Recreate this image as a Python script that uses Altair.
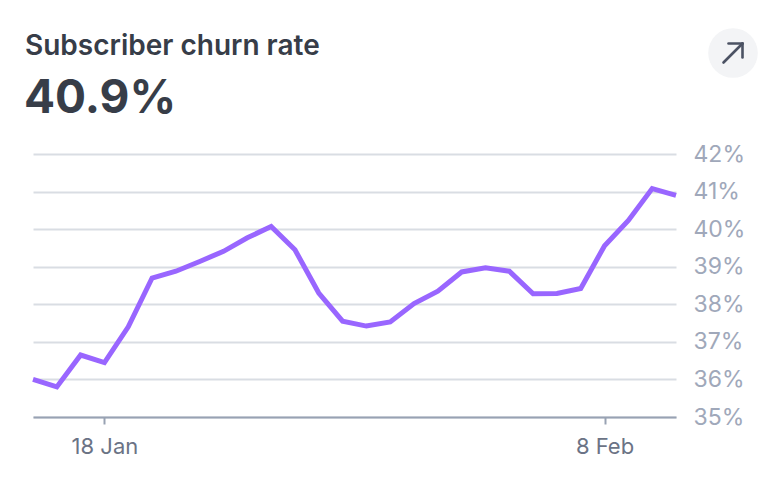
import altair as alt
import pandas as pd

dates = pd.date_range("2024-01-15", "2024-02-11", freq="D").strftime("%Y-%m-%d").tolist()
churn = [36.0, 35.8, 36.65, 36.45, 37.4, 38.7, 38.88, 39.14, 39.41, 39.77,
         40.07, 39.45, 38.3, 37.55, 37.42, 37.53, 38.02, 38.35, 38.86, 38.97,
         38.88, 38.28, 38.29, 38.42, 39.56, 40.23, 41.08, 40.9]
title_text = "Subscriber churn rate"
headline = "40.9%"
y_ticks = [35, 36, 37, 38, 39, 40, 41, 42]

df = pd.DataFrame({"date": dates, "churn": churn})

W, H = 643, 263
FONT = "Inter"

line = alt.Chart(df).mark_line(
    color="#9966ff", strokeWidth=5, strokeJoin="miter", strokeCap="butt", clip=False
).encode(
    x=alt.X(
        "date:T",
        scale=alt.Scale(type="utc", nice=False),
        axis=alt.Axis(
            title=None,
            values=[alt.DateTime(year=2024, month=1, date=18, utc=True),
                    alt.DateTime(year=2024, month=2, date=8, utc=True)],
            labelExpr="utcFormat(datum.value, '%-d %b')",
            grid=False,
            domainColor="#98a2b3",
            domainWidth=2,
            tickColor="#98a2b3",
            tickWidth=2,
            tickSize=7,
            labelPadding=12,
            labelColor="#6b7385",
            labelFontSize=22,
            labelFont=FONT,
        ),
    ),
    y=alt.Y(
        "churn:Q",
        scale=alt.Scale(domain=[35, 42], nice=False, zero=False),
        axis=alt.Axis(
            title=None,
            orient="right",
            values=y_ticks,
            labelExpr="datum.value + '%'",
            domain=False,
            ticks=False,
            grid=True,
            gridColor="#d9dde3",
            gridWidth=2,
            labelPadding=17,
            labelColor="#a0a8ba",
            labelFontSize=23,
            labelFont=FONT,
            labelBaseline="middle",
        ),
    ),
)

title = alt.Chart(pd.DataFrame({"t": [title_text]})).mark_text(
    align="left", baseline="alphabetic", font=FONT, fontSize=28, fontWeight=600,
    color="#373d48"
).encode(text="t:N", x=alt.value(-8), y=alt.value(-99))

big = alt.Chart(pd.DataFrame({"t": [headline]})).mark_text(
    align="left", baseline="alphabetic", font=FONT, fontSize=46, fontWeight=700,
    color="#373d48"
).encode(text="t:N", x=alt.value(-9), y=alt.value(-41))

button = alt.Chart(pd.DataFrame({"a": [0]})).mark_point(
    shape="circle", filled=True, size=2460, color="#f3f4f6", opacity=1
).encode(x=alt.value(700), y=alt.value(-101))

arrow_color = "#4b5263"
shaft = alt.Chart(pd.DataFrame({"a": [0]})).mark_rule(
    color=arrow_color, strokeWidth=2.6, strokeCap="round"
).encode(x=alt.value(690.5), x2=alt.value(709.5), y=alt.value(-91.5), y2=alt.value(-110.5))
head_h = alt.Chart(pd.DataFrame({"a": [0]})).mark_rule(
    color=arrow_color, strokeWidth=2.6, strokeCap="round"
).encode(x=alt.value(695.5), x2=alt.value(709.5), y=alt.value(-110.5), y2=alt.value(-110.5))
head_v = alt.Chart(pd.DataFrame({"a": [0]})).mark_rule(
    color=arrow_color, strokeWidth=2.6, strokeCap="round"
).encode(x=alt.value(709.5), x2=alt.value(709.5), y=alt.value(-110.5), y2=alt.value(-96.5))

chart = alt.layer(line, title, big, button, shaft, head_h, head_v).properties(
    width=W,
    height=H,
    autosize=alt.AutoSizeParams(type="none"),
    padding={"left": 25, "top": 146, "right": 90, "bottom": 58},
    background="white",
).configure_view(stroke=None)

chart.save("out.html", embed_options={"renderer": "svg", "actions": False})
